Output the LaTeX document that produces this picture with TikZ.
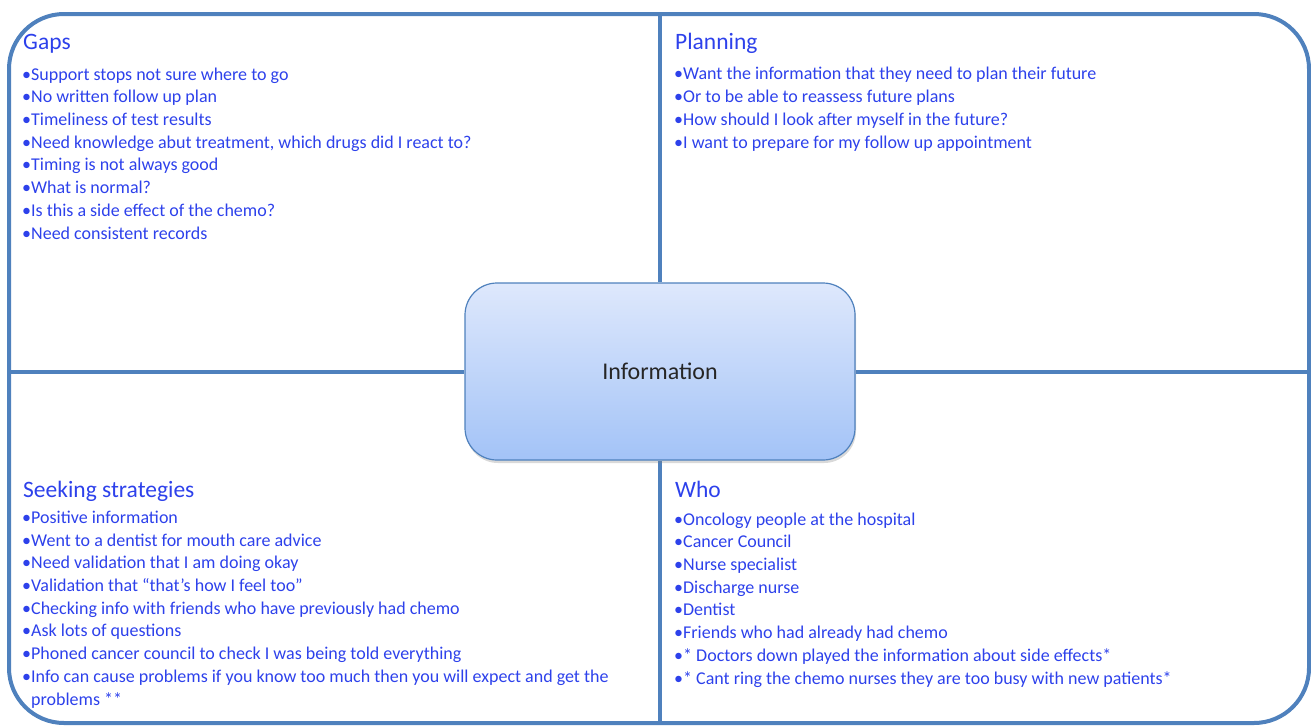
\documentclass[tikz,border=0pt]{standalone}
\usepackage{fontspec}
\setmainfont{Carlito}
\usetikzlibrary{shadows,backgrounds}

\definecolor{frameblue}{RGB}{79,129,189}
\definecolor{txtblue}{RGB}{45,65,235}
\definecolor{boxtop}{RGB}{222,232,252}
\definecolor{boxbot}{RGB}{163,195,247}

\begin{document}
\begin{tikzpicture}[x=1pt, y=-1pt,
  frame/.style={draw=frameblue, line width=4pt},
  head/.style={anchor=base west, inner sep=0pt, text=txtblue, font=\fontsize{23.5}{28}\selectfont},
  % multi-line nodes: base = baseline of the last line
  items/.style={anchor=base west, inner sep=0pt, text=txtblue, align=left, font=\fontsize{18}{22.7}\selectfont},
  centre/.style={draw=frameblue, line width=1.2pt, rounded corners=32pt,
    top color=boxtop, bottom color=boxbot, minimum width=390pt, minimum height=177pt,
    text=black!85, font=\fontsize{24}{28}\selectfont,
    drop shadow={shadow xshift=1pt, shadow yshift=-3pt, opacity=0.3}},
]
\useasboundingbox (0,0) rectangle (1311,726);

% outer frame
\draw [frame, rounded corners=55pt] (9,14) rectangle (1309,723);

% centre box
\node [centre] (info) at (660,371.5) {Information};

\coordinate (ftop) at (660,14);
\coordinate (fbot) at (660,723);
\coordinate (fleft) at (9,371.5);
\coordinate (fright) at (1309,371.5);

\begin{pgfonlayer}{background}
\draw [frame] (ftop) -- (info.north);
\draw [frame] (fbot) -- (info.south);
\draw [frame] (fleft) -- (info.west);
\draw [frame] (fright) -- (info.east);
\end{pgfonlayer}

% quadrant headings
\node [head] (gaps) at (23,49) {Gaps};
\node [head] (plan) at (675,49) {Planning};
\node [head] (seek) at (23,497) {Seeking strategies};
\node [head] (who) at (675,497) {Who};

% quadrant lists
\node [items] (gapsl) at (22,239) {•Support stops not sure where to go\\
  •No written follow up plan\\
  •Timeliness of test results\\
  •Need knowledge abut treatment, which drugs did I react to?\\
  •Timing is not always good\\
  •What is normal?\\
  •Is this a side effect of the chemo?\\
  •Need consistent records};

\node [items] (planl) at (674,148) {•Want the information that they need to plan their future\\
  •Or to be able to reassess future plans\\
  •How should I look after myself in the future?\\
  •I want to prepare for my follow up appointment};

\node [items] (seekl) at (22,705) {•Positive information\\
  •Went to a dentist for mouth care advice\\
  •Need validation that I am doing okay\\
  •Validation that “that’s how I feel too”\\
  •Checking info with friends who have previously had chemo\\
  •Ask lots of questions\\
  •Phoned cancer council to check I was being told everything\\
  •Info can cause problems if you know too much then you will expect and get the\\
  \phantom{•}problems **};

\node [items] (whol) at (674,684) {•Oncology people at the hospital\\
  •Cancer Council\\
  •Nurse specialist\\
  •Discharge nurse\\
  •Dentist\\
  •Friends who had already had chemo\\
  •* Doctors down played the information about side effects*\\
  •* Cant ring the chemo nurses they are too busy with new patients*};

\end{tikzpicture}
\end{document}
